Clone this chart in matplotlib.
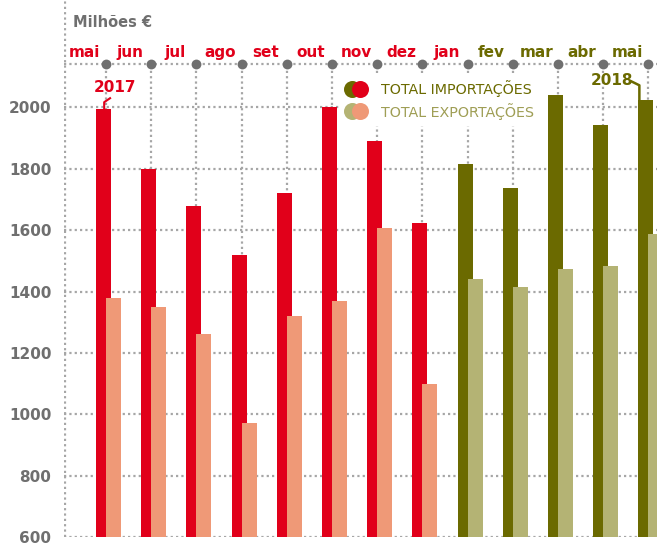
import matplotlib
matplotlib.use("Agg")
import matplotlib.pyplot as plt
import numpy as np

months = ["mai", "jun", "jul", "ago", "set", "out", "nov", "dez",
          "jan", "fev", "mar", "abr", "mai"]
imports = [1995, 1800, 1680, 1520, 1720, 2000, 1892, 1622,
           1815, 1737, 2040, 1942, 2024]
exports = [1380, 1349, 1260, 973, 1320, 1368, 1606, 1100,
           1440, 1414, 1473, 1483, 1589]
year_2018_from = 8  # jan 2018 onwards drawn in olive
label_red_until = 9  # month labels mai..jan in red
y_ticks = [600, 800, 1000, 1200, 1400, 1600, 1800, 2000]

RED = "#e1001a"
SALMON = "#ef9977"
OLIVE = "#6b6a00"
OLIVE_LIGHT = "#b4b374"
GRAY = "#6f6f6f"
GRID = "#a6a6a6"

W, H = 657, 545
fig = plt.figure(figsize=(W / 100, H / 100), dpi=100)
ax = fig.add_axes([64 / W, 8 / H, 593 / W, 537 / H])
ax.set_xlim(-0.929, 12.19)
ax.set_ylim(600, 2350)
for s in ax.spines.values():
    s.set_visible(False)

x = np.arange(len(months))
top_line = 2141
dotted = dict(color=GRID, lw=1.6, ls=(0, (1, 1.4)))

# grid
for v in y_ticks:
    ax.axhline(v, zorder=1, **dotted)
ax.axhline(top_line, zorder=1, **dotted)
ax.axvline(-0.929 + 0.02, zorder=1, **dotted)
for xi in x:
    ax.plot([xi, xi], [600, top_line], zorder=1, **dotted)
ax.scatter(x, [top_line] * len(x), s=50, color=GRAY, zorder=3, linewidths=0)

# bars
w = 0.332
imp_colors = [RED if i < year_2018_from else OLIVE for i in x]
exp_colors = [SALMON if i < year_2018_from else OLIVE_LIGHT for i in x]
ax.bar(x - 0.055, np.array(imports) - 600, bottom=600, width=w,
       color=imp_colors, zorder=4)
ax.bar(x + 0.166, np.array(exports) - 600, bottom=600, width=w,
       color=exp_colors, zorder=5)

# axis labels
ax.set_yticks(y_ticks)
ax.set_yticklabels([str(v) for v in y_ticks], fontsize=11,
                   fontweight="bold", color=GRAY)
ax.tick_params(axis="y", length=0, pad=9)
ax.set_xticks([])
ax.text(-0.73, 2278, "Milhões €", fontsize=10.5, fontweight="bold",
        color=GRAY, ha="left", va="center")

for i, m in enumerate(months):
    ax.text(i - 0.47, 2180, m, fontsize=11, fontweight="bold",
            color=RED if i < label_red_until else OLIVE,
            ha="center", va="center", zorder=6)

# year labels
ax.text(0.2, 2066, "2017", fontsize=11, fontweight="bold", color=RED,
        ha="center", va="center", zorder=6)
ax.plot([0.09, -0.04, -0.04], [2030, 2017, imports[0]], color=RED,
        lw=1.5, zorder=6)
ax.text(11.19, 2089, "2018", fontsize=11, fontweight="bold", color=OLIVE,
        ha="center", va="center", zorder=6)
ax.plot([11.62, 11.8, 11.8], [2085, 2072, imports[12]], color=OLIVE,
        lw=1.8, zorder=6, clip_on=False)

# legend
ax.fill_between([5.18, 9.76], 1942, 2105, color="white", zorder=2)
ax.scatter([5.44], [2060], s=150, color=OLIVE, zorder=6, linewidths=0)
ax.scatter([5.62], [2060], s=150, color=RED, zorder=7, linewidths=0)
ax.scatter([5.44], [1988], s=150, color=OLIVE_LIGHT, zorder=6, linewidths=0)
ax.scatter([5.62], [1988], s=150, color=SALMON, zorder=7, linewidths=0)
ax.text(6.08, 2060, "TOTAL IMPORTAÇÕES", fontsize=10.3, color=OLIVE,
        ha="left", va="center", zorder=7)
ax.text(6.08, 1988, "TOTAL EXPORTAÇÕES", fontsize=10.3, color="#9f9e55",
        ha="left", va="center", zorder=7)

fig.savefig("out.png", dpi=100)
